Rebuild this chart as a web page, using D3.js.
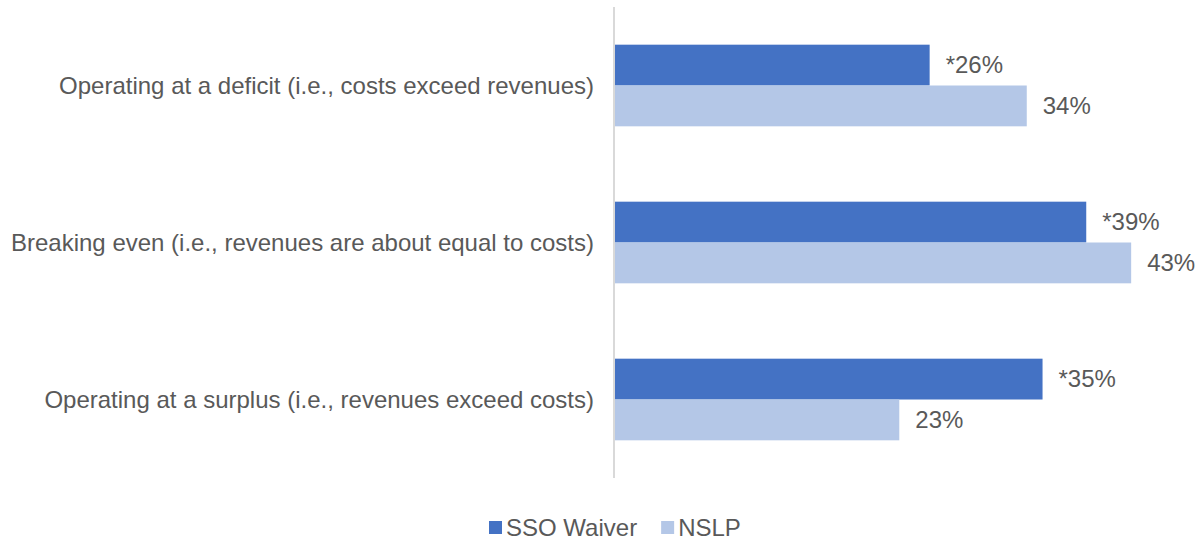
<!doctype html>
<html lang="en">
<head>
<meta charset="utf-8">
<title>Financial status</title>
<script src="https://d3js.org/d3.v7.min.js"></script>
<style>
  body { margin: 0; background: #fff; }
  svg text { font-family: "Liberation Sans", Arial, sans-serif; fill: #595959; }
</style>
</head>
<body>
<svg class="chart"></svg>
<script>
// data
var categories = [
  "Operating at a deficit (i.e., costs exceed revenues)",
  "Breaking even (i.e., revenues are about equal to costs)",
  "Operating at a surplus (i.e., revenues exceed costs)"
];
var seriesNames = ["SSO Waiver", "NSLP"];
var ssoValues = [0.26, 0.389, 0.353];
var nslpValues = [0.34, 0.426, 0.235];
var ssoLabels = ["*26%", "*39%", "*35%"];
var nslpLabels = ["34%", "43%", "23%"];
var colors = ["#4472C4", "#B4C7E7"];

var chartW = 1204, chartH = 539;
var plotLeft = 614, plotTop = 7, plotBottom = 478;
var fontSize = 24;

var chart = d3.select(".chart")
  .attr("width", chartW)
  .attr("height", chartH);

var x = d3.scaleLinear().domain([0, 0.5]).range([plotLeft, plotLeft + 607]);
var y = d3.scaleBand().domain(categories).range([plotTop, plotBottom]).paddingInner(0.48).paddingOuter(0.24);
var sub = d3.scaleBand().domain(seriesNames).range([0, y.bandwidth()]);

var rows = categories.map(function(c, i) {
  return { cat: c, vals: [
    { s: seriesNames[0], v: ssoValues[i], label: ssoLabels[i] },
    { s: seriesNames[1], v: nslpValues[i], label: nslpLabels[i] }
  ]};
});

var g = chart.selectAll("g.cat")
  .data(rows)
  .enter().append("g")
    .attr("class", "cat")
    .attr("transform", function(d) { return "translate(0," + y(d.cat) + ")"; });

g.selectAll("rect")
  .data(function(d) { return d.vals; })
  .enter().append("rect")
    .attr("x", x(0))
    .attr("y", function(d) { return sub(d.s); })
    .attr("width", function(d) { return x(d.v) - x(0); })
    .attr("height", sub.bandwidth())
    .attr("fill", function(d, i) { return colors[i]; });

g.selectAll("text.val")
  .data(function(d) { return d.vals; })
  .enter().append("text")
    .attr("class", "val")
    .attr("x", function(d) { return x(d.v) + 16; })
    .attr("y", function(d) { return sub(d.s) + sub.bandwidth() / 2; })
    .attr("dy", "0.35em")
    .attr("font-size", fontSize)
    .text(function(d) { return d.label; });

// category labels
chart.selectAll("text.cat-label")
  .data(categories)
  .enter().append("text")
    .attr("class", "cat-label")
    .attr("x", plotLeft - 20)
    .attr("y", function(d) { return y(d) + y.bandwidth() / 2; })
    .attr("dy", "0.35em")
    .attr("text-anchor", "end")
    .attr("font-size", fontSize)
    .text(function(d) { return d; });

// axis line
chart.append("line")
  .attr("x1", plotLeft).attr("x2", plotLeft)
  .attr("y1", plotTop).attr("y2", plotBottom)
  .attr("stroke", "#d9d9d9")
  .attr("stroke-width", 2);

// legend
var legend = chart.append("g").attr("transform", "translate(489,521)");
var lx = 0;
seriesNames.forEach(function(name, i) {
  var item = legend.append("g").attr("transform", "translate(" + lx + ",0)");
  item.append("rect").attr("width", 13).attr("height", 13).attr("fill", colors[i]);
  var t = item.append("text")
    .attr("x", 17).attr("y", 6.5).attr("dy", "0.35em")
    .attr("font-size", fontSize)
    .text(name);
  lx += 17 + t.node().getComputedTextLength() + 24;
});
</script>
</body>
</html>
